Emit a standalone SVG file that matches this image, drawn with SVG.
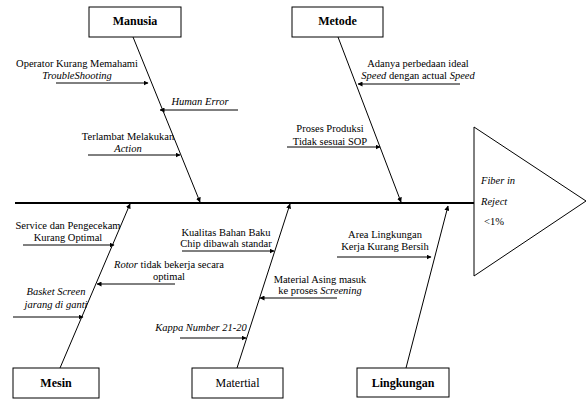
<svg xmlns="http://www.w3.org/2000/svg" width="587" height="401" viewBox="0 0 587 401">
<defs>
<marker id="ah" viewBox="0 0 10 10" refX="9" refY="5" markerWidth="5" markerHeight="5" orient="auto" markerUnits="userSpaceOnUse">
<path d="M0,0 L10,5 L0,10 z" fill="#000"/>
</marker>
</defs>
<style>
.box{fill:#fff;stroke:#000;stroke-width:1}
.bl{font-size:12px;text-anchor:middle;fill:#000}
.b{font-weight:bold}
.t{font-size:10.5px;text-anchor:middle;fill:#000}
.s{text-anchor:start}
.i{font-style:italic}
.ln{stroke:#000;stroke-width:1;fill:none}
.ar{stroke:#000;stroke-width:1;fill:none;marker-end:url(#ah)}
</style>
<rect width="587" height="401" fill="#fff"/>
<g id="connectors">
<line x1="15" y1="203" x2="474" y2="203" stroke="#000" stroke-width="2"/>
<line class="ar" x1="133" y1="37" x2="200" y2="202"/>
<line class="ar" x1="338" y1="37" x2="401" y2="202"/>
<line class="ar" x1="60" y1="368" x2="130" y2="204"/>
<line class="ar" x1="237" y1="368" x2="290" y2="204"/>
<line class="ar" x1="406" y1="368" x2="448" y2="206"/>
<line class="ar" x1="56" y1="83" x2="148" y2="83"/>
<line class="ar" x1="238" y1="110" x2="160" y2="110"/>
<line class="ar" x1="88" y1="155" x2="180" y2="155"/>
<line class="ar" x1="460" y1="84" x2="358" y2="84"/>
<line class="ar" x1="287" y1="147" x2="380" y2="147"/>
<line class="ar" x1="23" y1="245" x2="114" y2="245"/>
<line class="ar" x1="175" y1="284" x2="97" y2="284"/>
<line class="ar" x1="13" y1="317" x2="83" y2="317"/>
<line class="ar" x1="182" y1="251" x2="274" y2="251"/>
<line class="ar" x1="337" y1="298" x2="260" y2="298"/>
<line class="ar" x1="180" y1="338" x2="246" y2="338"/>
<line class="ar" x1="337" y1="257" x2="431" y2="257"/>
</g>
<g font-family="'Liberation Serif', 'DejaVu Serif', serif">
<g id="manusia"><rect class="box" x="89" y="7" width="92" height="30"/><text class="bl b" x="135" y="25">Manusia</text></g>
<g id="metode"><rect class="box" x="292" y="7" width="91" height="30"/><text class="bl b" x="337.5" y="25">Metode</text></g>
<g id="mesin"><rect class="box" x="13" y="368" width="86" height="30"/><text class="bl b" x="56" y="387">Mesin</text></g>
<g id="matertial"><rect class="box" x="192" y="368" width="91" height="30"/><text class="bl" x="237.5" y="387">Matertial</text></g>
<g id="lingkungan"><rect class="box" x="357" y="368" width="92" height="29"/><text class="bl b" x="403" y="387">Lingkungan</text></g>
<g id="effect">
<path class="ln" d="M474,127 L586,201 L474,276 Z"/>
<text class="t i s" x="481" y="184">Fiber in</text>
<text class="t i s" x="481" y="205">Reject</text>
<text class="t s" x="484" y="225">&lt;1%</text>
</g>
<g id="causes">
<text class="t" x="77" y="67">Operator Kurang Memahami</text>
<text class="t i" x="77" y="79">TroubleShooting</text>
<text class="t i" x="200" y="105">Human Error</text>
<text class="t" x="128" y="140">Terlambat Melakukan</text>
<text class="t i" x="128" y="152">Action</text>
<text class="t" x="418" y="67">Adanya perbedaan ideal</text>
<text class="t" x="418" y="79"><tspan class="i">Speed</tspan> dengan actual <tspan class="i">Speed</tspan></text>
<text class="t" x="330" y="132">Proses Produksi</text>
<text class="t" x="330" y="145">Tidak sesuai SOP</text>
<text class="t" x="68" y="229">Service dan Pengecekam</text>
<text class="t" x="68" y="241">Kurang Optimal</text>
<text class="t" x="169" y="268"><tspan class="i">Rotor</tspan> tidak bekerja secara</text>
<text class="t" x="169" y="280">optimal</text>
<text class="t i" x="56" y="295">Basket Screen</text>
<text class="t i" x="56" y="308">jarang di ganti</text>
<text class="t" x="226" y="236">Kualitas Bahan Baku</text>
<text class="t" x="226" y="247">Chip dibawah standar</text>
<text class="t" x="320" y="283">Material Asing masuk</text>
<text class="t" x="320" y="294">ke proses <tspan class="i">Screening</tspan></text>
<text class="t i" x="201" y="331">Kappa Number 21-20</text>
<text class="t" x="385" y="238">Area Lingkungan</text>
<text class="t" x="385" y="250">Kerja Kurang Bersih</text>
</g>
</g>
</svg>
